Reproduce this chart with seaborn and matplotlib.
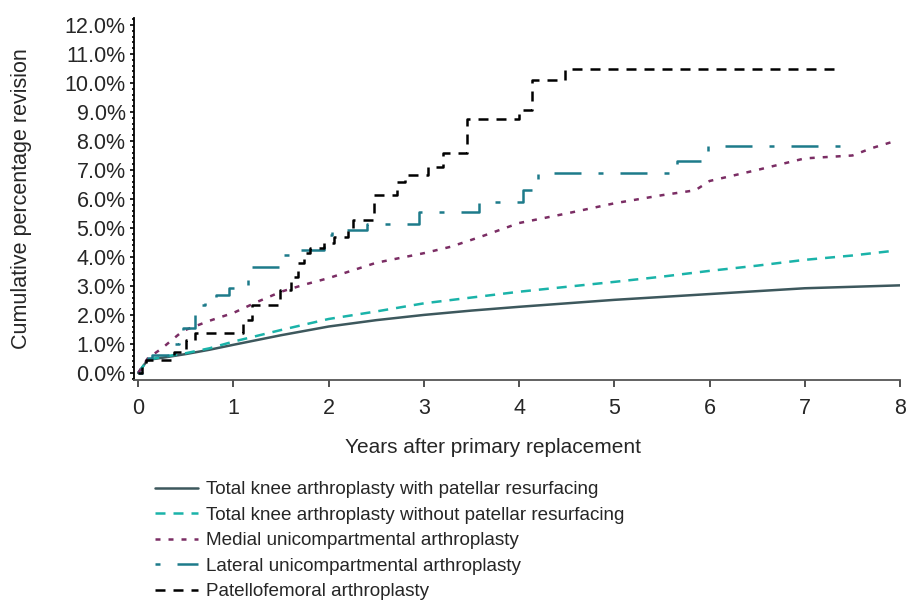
import matplotlib
matplotlib.use('Agg')
import matplotlib.pyplot as plt
from matplotlib.ticker import MultipleLocator, FuncFormatter
import seaborn as sns

sns.set_style('ticks')
plt.rcParams['font.family'] = ['Liberation Sans', 'DejaVu Sans']

# TKA with patellar resurfacing (smooth)
tka_pr_years = [0, 0.1, 0.25, 0.5, 0.75, 1, 1.5, 2, 2.5, 3, 3.5, 4,
                4.5, 5, 5.5, 6, 6.5, 7, 7.5, 8.0]
tka_pr_pct = [0, 0.45, 0.52, 0.65, 0.8, 0.97, 1.3, 1.6, 1.82, 2.0, 2.15,
              2.28, 2.4, 2.52, 2.62, 2.72, 2.82, 2.92, 2.97, 3.02]

# TKA without patellar resurfacing (smooth)
tka_npr_years = [0, 0.1, 0.25, 0.5, 0.75, 1, 1.5, 2, 2.5, 3, 3.5, 4,
                 4.5, 5, 5.5, 6, 6.5, 7, 7.5, 7.9]
tka_npr_pct = [0, 0.45, 0.55, 0.68, 0.85, 1.08, 1.48, 1.86, 2.12, 2.4,
               2.6, 2.8, 2.97, 3.14, 3.32, 3.52, 3.7, 3.9, 4.05, 4.2]

# Medial unicompartmental
medial_years = [0, 0.1, 0.25, 0.47, 0.75, 1.0, 1.25, 1.5, 1.75, 2.0, 2.5,
                3.0, 3.28, 3.6, 4.0, 4.5, 5.0, 5.5, 5.85, 6.0, 6.5, 7.0,
                7.5, 7.7, 7.95]
medial_pct = [0, 0.5, 0.85, 1.45, 1.8, 2.07, 2.45, 2.8, 3.05, 3.27, 3.8,
              4.13, 4.35, 4.7, 5.17, 5.5, 5.85, 6.13, 6.3, 6.62, 7.0, 7.4,
              7.5, 7.75, 8.0]

# Lateral unicompartmental (step)
lateral_years = [0, 0.05, 0.1, 0.15, 0.38, 0.43, 0.47, 0.6, 0.65, 0.7,
                 0.82, 0.95, 1.15, 1.5, 1.68, 1.95, 2.03, 2.4, 2.95, 3.58,
                 4.04, 4.2, 5.66, 5.98, 7.45]
lateral_pct = [0, 0.3, 0.5, 0.62, 1.0, 1.25, 1.55, 2.1, 2.35, 2.55, 2.7,
               2.93, 3.66, 4.07, 4.24, 4.75, 4.93, 5.13, 5.55, 5.9, 6.3,
               6.9, 7.3, 7.83, 7.83]

# Patellofemoral (step)
pf_years = [0, 0.04, 0.08, 0.38, 0.5, 0.6, 1.1, 1.2, 1.49, 1.6, 1.68,
            1.74, 1.8, 1.95, 2.06, 2.2, 2.26, 2.48, 2.72, 2.8, 3.04, 3.2,
            3.45, 4.0, 4.14, 4.48, 7.33]
pf_pct = [0, 0.2, 0.45, 0.72, 1.14, 1.37, 1.83, 2.34, 2.86, 3.3, 3.8,
          4.13, 4.3, 4.48, 4.7, 4.95, 5.28, 6.14, 6.6, 6.83, 7.1, 7.6,
          8.76, 9.07, 10.1, 10.5, 10.5]

labels = ['Total knee arthroplasty with patellar resurfacing',
          'Total knee arthroplasty without patellar resurfacing',
          'Medial unicompartmental arthroplasty',
          'Lateral unicompartmental arthroplasty',
          'Patellofemoral arthroplasty']
colors = ['#3d585d', '#1ab3a9', '#7b2d64', '#1d7b8a', '#000000']

fig = plt.figure(figsize=(9.11, 6.02), dpi=100)
ax = fig.add_axes([0.147, 0.369, 0.841, 0.601])

lw = 1.8
sns.lineplot(x=tka_pr_years, y=tka_pr_pct, ax=ax, color=colors[0],
             linewidth=lw, label=labels[0], estimator=None, sort=False)
sns.lineplot(x=tka_npr_years, y=tka_npr_pct, ax=ax, color=colors[1],
             linewidth=lw, linestyle=(0, (4, 3.2)), label=labels[1],
             estimator=None, sort=False)
sns.lineplot(x=medial_years, y=medial_pct, ax=ax, color=colors[2],
             linewidth=lw, linestyle=(0, (2, 3.2)), label=labels[2],
             estimator=None, sort=False)
sns.lineplot(x=lateral_years, y=lateral_pct, ax=ax, color=colors[3],
             linewidth=lw, linestyle=(0, (2, 6.8, 10.8, 6.8)),
             drawstyle='steps-post', label=labels[3],
             estimator=None, sort=False)
sns.lineplot(x=pf_years, y=pf_pct, ax=ax, color=colors[4],
             linewidth=lw, linestyle=(0, (4, 3.2)),
             drawstyle='steps-post', label=labels[4],
             estimator=None, sort=False)

ax.set_xlim(-0.045, 8.0)
ax.set_ylim(-0.24, 12.24)
ax.xaxis.set_major_locator(MultipleLocator(1))
ax.yaxis.set_major_locator(MultipleLocator(1))
ax.yaxis.set_minor_locator(MultipleLocator(0.2))
ax.yaxis.set_major_formatter(FuncFormatter(lambda v, p: f'{v:.1f}%'))

ax.tick_params(axis='x', length=5, width=1.2, pad=8, labelsize=15.5,
               color='#333333')
ax.tick_params(axis='y', which='major', length=3, width=1.2, pad=3,
               labelsize=15.5, color='black')
ax.tick_params(axis='y', which='minor', length=1.8, width=1.2,
               color='black')

sns.despine(ax=ax)
ax.spines['left'].set_color('black')
ax.spines['left'].set_linewidth(1.3)
ax.spines['bottom'].set_color('#555555')
ax.spines['bottom'].set_linewidth(1.3)

ax.set_xlabel('Years after primary replacement', fontsize=15)
ax.set_ylabel('Cumulative percentage revision', fontsize=15.5)
ax.xaxis.set_label_coords(0.469, -0.16)
ax.yaxis.set_label_coords(-0.133, 0.5)

ax.legend(loc='upper left', bbox_to_anchor=(0.170, 0.201),
          bbox_transform=fig.transFigure, frameon=False, fontsize=13.6,
          handlelength=2.3, handletextpad=0.4, labelspacing=0.44,
          borderpad=0, borderaxespad=0)

fig.savefig('out.png', dpi=100)
